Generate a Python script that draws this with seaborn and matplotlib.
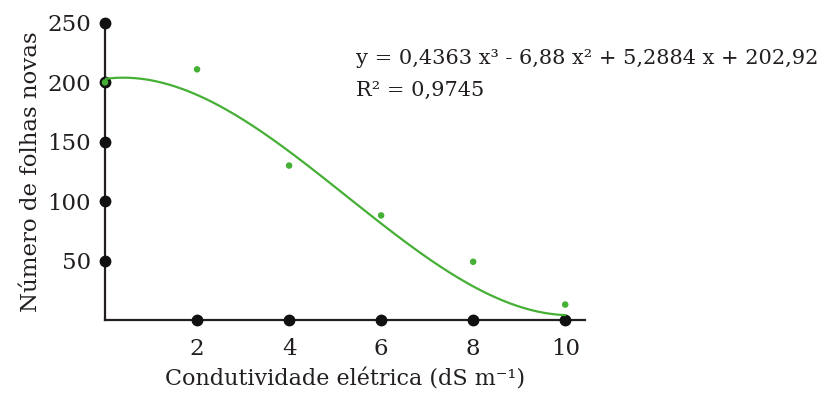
import numpy as np
import pandas as pd
import seaborn as sns
import matplotlib.pyplot as plt

# Observed means
condutividade = [0, 2, 4, 6, 8, 10]
folhas_novas = [200, 211, 130, 88, 49, 13]

# Fitted cubic regression: y = a x^3 + b x^2 + c x + d
coef = [0.4363, -6.88, 5.2884, 202.92]
r2 = 0.9745

x_ticks = [2, 4, 6, 8, 10]
y_ticks = [50, 100, 150, 200, 250]

sns.set_theme(style="white")
plt.rcParams["font.family"] = ["DejaVu Serif"]

ink = "#231f20"
green = "#45b035"

fig = plt.figure(figsize=(8.25, 3.95), dpi=100)
ax = fig.add_axes([0.1273, 0.1899, 0.5818, 0.7519])

df = pd.DataFrame({"x": condutividade, "y": folhas_novas})

xs = np.linspace(0, 10, 200)
curve = pd.DataFrame({"x": xs, "y": np.polyval(coef, xs)})

ax.set_xlim(0, 10.43)
ax.set_ylim(0, 250)

# axis dots at the tick positions
ax.plot(x_ticks, [0] * len(x_ticks), "o", color="#111111", ms=7.5, clip_on=False, zorder=3)
ax.plot([0] * len(y_ticks), y_ticks, "o", color="#111111", ms=7.5, clip_on=False, zorder=3)

sns.lineplot(data=curve, x="x", y="y", ax=ax, color=green, lw=1.6, zorder=4)
sns.scatterplot(data=df, x="x", y="y", ax=ax, color=green, s=22, marker="o",
                edgecolor="none", zorder=5, clip_on=False)

for side in ["top", "right"]:
    ax.spines[side].set_visible(False)
for side in ["left", "bottom"]:
    ax.spines[side].set_color(ink)
    ax.spines[side].set_linewidth(1.6)

ax.set_xticks(x_ticks)
ax.set_yticks(y_ticks)
ax.tick_params(length=0, labelsize=16.5, colors=ink)
ax.tick_params(axis="x", pad=13)
ax.tick_params(axis="y", pad=10)

ax.set_xlabel("Condutividade elétrica (dS m⁻¹)", fontsize=16, color=ink, labelpad=6)
ax.set_ylabel("Número de folhas novas", fontsize=16.5, color=ink, labelpad=4)

fig.text(356 / 825, 1 - 58 / 395,
         "y = 0,4363 x³ - 6,88 x² + 5,2884 x + 202,92",
         fontsize=15, color=ink, va="center", ha="left")
fig.text(356 / 825, 1 - 90 / 395, f"R² = {r2:.4f}".replace(".", ","),
         fontsize=15, color=ink, va="center", ha="left")

fig.savefig("out.png", dpi=100)
